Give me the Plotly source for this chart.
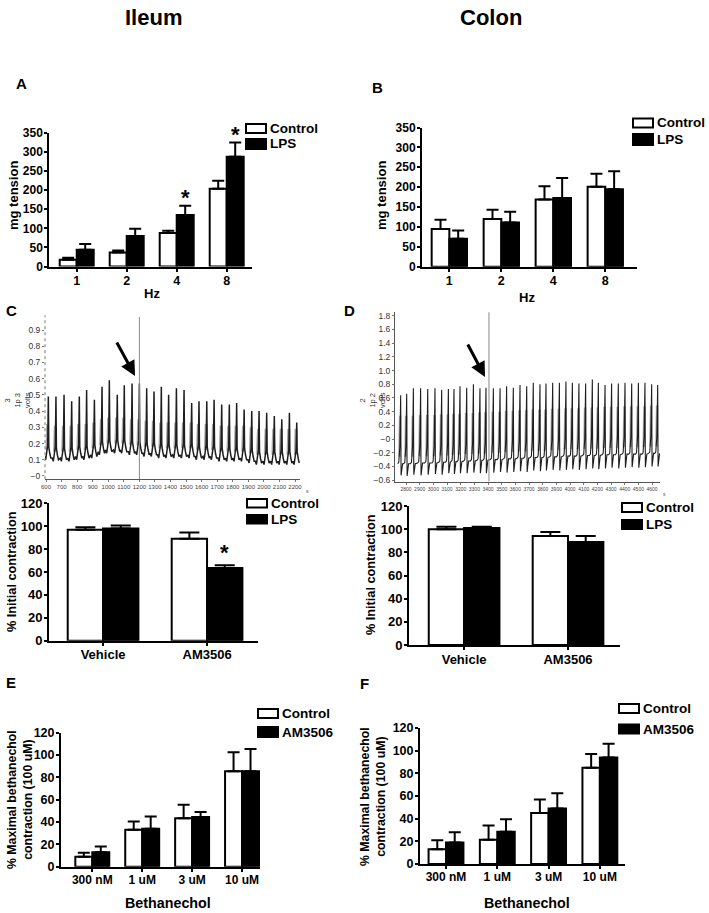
import plotly.graph_objects as go

W, H = 709, 913
FONT = "Liberation Sans, Arial, sans-serif"

# ---------------- data ----------------
hz_labels = ["1", "2", "4", "8"]
A_control = [18, 37, 88, 204]
A_control_err = [5, 5, 6, 21]
A_lps = [44, 80, 135, 288]
A_lps_err = [15, 19, 24, 37]
A_sig = [False, False, True, True]

B_control = [95, 120, 169, 201]
B_control_err = [23, 23, 33, 33]
B_lps = [70, 111, 173, 195]
B_lps_err = [21, 27, 50, 45]

treat_labels = ["Vehicle", "AM3506"]
C_control = [97, 89]
C_control_err = [2, 5.6]
C_lps = [98, 63.5]
C_lps_err = [2.7, 2.4]
C_sig = [False, True]

D_control = [100, 94]
D_control_err = [2, 3.5]
D_lps = [101, 89]
D_lps_err = [1, 5]

conc_labels = ["300 nM", "1 uM", "3 uM", "10 uM"]
E_control = [9, 33, 43.5, 85.5]
E_control_err = [3.5, 7.5, 12, 17]
E_am = [13, 34, 44.5, 85.5]
E_am_err = [5, 11, 4.5, 20]
F_control = [13, 21.5, 45, 85]
F_control_err = [8, 12.5, 12, 12]
F_am = [19, 28.5, 49, 94]
F_am_err = [9, 11, 13.5, 12]

# recorded traces (spike times in s, peak volts, baseline volts)
C_peak_t = [615, 664, 716, 765, 814, 861, 911, 960, 1007, 1058, 1103, 1153, 1200, 1247,
            1294, 1341, 1388, 1438, 1487, 1536, 1583, 1633, 1680, 1729, 1778, 1825, 1873,
            1922, 1969, 2018, 2067, 2115, 2164, 2211]
C_peak_v = [0.49, 0.49, 0.50, 0.46, 0.49, 0.53, 0.47, 0.55, 0.59, 0.50, 0.56, 0.57, 0.57, 0.54,
            0.52, 0.55, 0.50, 0.54, 0.53, 0.45, 0.46, 0.46, 0.47, 0.44, 0.44, 0.45, 0.41,
            0.40, 0.40, 0.39, 0.37, 0.35, 0.39, 0.33]
C_base = [0.12, 0.11, 0.11, 0.11, 0.12, 0.12, 0.13, 0.15, 0.16, 0.16, 0.16, 0.15, 0.15, 0.14,
          0.14, 0.13, 0.13, 0.13, 0.13, 0.13, 0.12, 0.12, 0.12, 0.11, 0.11, 0.11, 0.11,
          0.10, 0.09, 0.09, 0.09, 0.09, 0.09, 0.09]
C_cursor = 1200
C_xticks = list(range(600, 2201, 100))
C_yticks = [0, 0.1, 0.2, 0.3, 0.4, 0.5, 0.6, 0.7, 0.8, 0.9]
C_ytext = ["\u22120", "0.1", "0.2", "0.3", "0.4", "0.5", "0.6", "0.7", "0.8", "0.9"]

D_peak_t = [2761, 2805, 2854, 2907, 2959, 3012, 3061, 3110, 3151, 3195, 3244, 3293, 3341, 3385,
            3439, 3488, 3536, 3585, 3634, 3683, 3731, 3780, 3824, 3873, 3922, 3970, 4017,
            4065, 4114, 4163, 4207, 4256, 4304, 4353, 4402, 4451, 4500, 4548, 4597, 4641]
D_peak_v = [0.64, 0.66, 0.74, 0.74, 0.73, 0.74, 0.72, 0.73, 0.73, 0.77, 0.75, 0.80, 0.74, 0.75,
            0.74, 0.74, 0.77, 0.75, 0.79, 0.77, 0.82, 0.80, 0.81, 0.82, 0.82, 0.84, 0.82,
            0.81, 0.81, 0.87, 0.82, 0.79, 0.81, 0.81, 0.82, 0.81, 0.82, 0.82, 0.80, 0.79]
D_base = [-0.36, -0.36, -0.36, -0.35, -0.35, -0.35, -0.34, -0.34, -0.33, -0.33, -0.32, -0.32,
          -0.31, -0.31, -0.30, -0.30, -0.29, -0.29, -0.28, -0.28, -0.27, -0.27, -0.27, -0.26,
          -0.26, -0.25, -0.25, -0.25, -0.24, -0.24, -0.24, -0.23, -0.23, -0.23, -0.22, -0.22,
          -0.22, -0.22, -0.21, -0.21]
D_trough = [-0.53, -0.54, -0.52, -0.53, -0.52, -0.51, -0.52, -0.50, -0.51, -0.50, -0.50, -0.49,
            -0.50, -0.50, -0.49, -0.48, -0.49, -0.48, -0.47, -0.48, -0.46, -0.47, -0.46, -0.45,
            -0.46, -0.45, -0.44, -0.45, -0.44, -0.43, -0.44, -0.43, -0.42, -0.43, -0.42, -0.41,
            -0.42, -0.41, -0.40, -0.40]
D_cursor = 3407
D_xticks = list(range(2800, 4601, 100))
D_yticks = [-0.6, -0.4, -0.2, 0, 0.2, 0.4, 0.6, 0.8, 1.0, 1.2, 1.4, 1.6, 1.8]
D_ytext = ["\u22120.6", "\u22120.4", "\u22120.2", "\u22120", "0.2", "0.4", "0.6", "0.8",
           "1.0", "1.2", "1.4", "1.6", "1.8"]


def px(x):
    return x / W


def py(y):
    return 1 - y / H


fig = go.Figure()
annotations = []
shapes = []


def bar_pair(ax, labels, v1, e1, v2, e2, capw):
    n = len(labels)
    xs = list(range(n))
    fig.add_trace(go.Bar(
        x=xs, y=v1, xaxis="x" + ax, yaxis="y" + ax, showlegend=False,
        marker=dict(color="white", line=dict(color="black", width=2)),
        error_y=dict(type="data", array=e1, arrayminus=[0] * n, symmetric=False,
                     color="black", thickness=2, width=capw)))
    fig.add_trace(go.Bar(
        x=xs, y=v2, xaxis="x" + ax, yaxis="y" + ax, showlegend=False,
        marker=dict(color="black", line=dict(color="black", width=2)),
        error_y=dict(type="data", array=e2, arrayminus=[0] * n, symmetric=False,
                     color="black", thickness=2, width=capw)))


bar_pair("", hz_labels, A_control, A_control_err, A_lps, A_lps_err, 6)
bar_pair("2", hz_labels, B_control, B_control_err, B_lps, B_lps_err, 6)
bar_pair("5", treat_labels, C_control, C_control_err, C_lps, C_lps_err, 10)
bar_pair("6", treat_labels, D_control, D_control_err, D_lps, D_lps_err, 10)
bar_pair("7", conc_labels, E_control, E_control_err, E_am, E_am_err, 6)
bar_pair("8", conc_labels, F_control, F_control_err, F_am, F_am_err, 6)

# recorded traces: grey rising flanks underneath, dark recording line on top
gx, gy = [], []
for t, p, b in zip(C_peak_t, C_peak_v, C_base):
    gx += [t - 9, t - 4, None]
    gy += [b + 0.04, b + 0.2, None]
fig.add_trace(go.Scatter(x=gx, y=gy, mode="lines", xaxis="x3", yaxis="y3", showlegend=False,
                         line=dict(color="#a8a8a8", width=3)))
cx, cy = [], []
for t, p, b in zip(C_peak_t, C_peak_v, C_base):
    cx += [t - 24, t - 17, t - 10, t - 4, t, t + 3, t + 9, t + 16]
    cy += [b, b - 0.02, b + 0.03, b + 0.07, p, b + 0.06, b + 0.02, b - 0.01]
fig.add_trace(go.Scatter(x=cx, y=cy, mode="lines", xaxis="x3", yaxis="y3", showlegend=False,
                         line=dict(color="#1e1e1e", width=1.5)))

hx, hy = [], []
for t, p, b, q in zip(D_peak_t, D_peak_v, D_base, D_trough):
    hx += [t - 9, t - 4, None]
    hy += [b + 0.1, b + 0.7, None]
fig.add_trace(go.Scatter(x=hx, y=hy, mode="lines", xaxis="x4", yaxis="y4", showlegend=False,
                         line=dict(color="#a8a8a8", width=2.5)))
dx, dy = [], []
for t, p, b, q in zip(D_peak_t, D_peak_v, D_base, D_trough):
    dx += [t - 22, t - 14, t - 6, t, t + 3, t + 8, t + 14]
    dy += [b, b + 0.02, b + 0.25, p, q, b - 0.02, b]
fig.add_trace(go.Scatter(x=dx, y=dy, mode="lines", xaxis="x4", yaxis="y4", showlegend=False,
                         line=dict(color="#1e1e1e", width=1.1)))

layout = dict(
    width=W, height=H, autosize=False, margin=dict(l=0, r=0, t=0, b=0, pad=0, autoexpand=False),
    paper_bgcolor="white", plot_bgcolor="white",
    barmode="group", bargap=0.32, bargroupgap=0,
    font=dict(family=FONT, color="black"),
)


def bar_axes(key, xd, yd, xr, labels, yr, dtick, tfs, cfs):
    xk = "xaxis" + key
    yk = "yaxis" + key
    layout[xk] = dict(domain=[px(xd[0]), px(xd[1])], range=xr, anchor="y" + key,
                      tickmode="array", tickvals=list(range(len(labels))), ticktext=labels,
                      showline=True, linecolor="black", linewidth=2, ticks="outside",
                      ticklen=3, tickwidth=1.5, tickcolor="black", showgrid=False,
                      zeroline=False, fixedrange=True, automargin=False,
                      ticklabelstandoff=-2,
                      tickfont=dict(family=FONT, size=cfs, color="black", weight="bold"))
    layout[yk] = dict(domain=[py(yd[1]), py(yd[0])], range=yr, anchor="x" + key,
                      dtick=dtick, tick0=0, showline=True, linecolor="black", linewidth=2,
                      ticks="outside", ticklen=3, tickwidth=1.5, tickcolor="black",
                      showgrid=False, zeroline=False, fixedrange=True, automargin=False,
                      ticklabelstandoff=-1,
                      tickfont=dict(family=FONT, size=tfs, color="black", weight="bold"))


bar_axes("", (49.3, 251.7), (133, 266.5), [-0.548, 3.5], hz_labels, [0, 350], 50, 12, 12.5)
bar_axes("2", (422, 637), (127.5, 266.7), [-0.526, 3.61], hz_labels, [0, 350], 50, 12, 12.5)
bar_axes("5", (49, 258), (503.3, 640.7), [-0.52, 1.49], treat_labels, [0, 120], 20, 13, 13)
bar_axes("6", (409, 620), (506, 645), [-0.53, 1.5], treat_labels, [0, 120], 20, 13, 13)
bar_axes("7", (61, 260), (732.7, 866.7), [-0.627, 3.36], conc_labels, [0, 120], 20, 12.5, 12)
bar_axes("8", (420, 625), (728, 864), [-0.507, 3.49], conc_labels, [0, 120], 20, 12.5, 12)


def trace_axes(key, xd, yd, xr, yr, xt, yt, ytxt, dotted, xfs):
    layout["xaxis" + key] = dict(domain=[px(xd[0]), px(xd[1])], range=xr, anchor="y" + key,
                                 tickmode="array", tickvals=xt, ticktext=[str(v) for v in xt],
                                 showline=True, linecolor="#555", linewidth=1, ticks="outside",
                                 ticklen=2, tickcolor="#777", showgrid=False, zeroline=False,
                                 tickangle=0, fixedrange=True, automargin=False,
                                 tickfont=dict(family=FONT, size=xfs, color="#444"))
    layout["yaxis" + key] = dict(domain=[py(yd[1]), py(yd[0])], range=yr, anchor="x" + key,
                                 tickmode="array", tickvals=yt, ticktext=ytxt,
                                 showline=not dotted, linecolor="#555", linewidth=1,
                                 ticks="outside", ticklen=2, tickcolor="#777", showgrid=False,
                                 zeroline=False, fixedrange=True, automargin=False,
                                 tickfont=dict(family=FONT, size=8.5, color="#333"))


trace_axes("3", (45, 300), (315.4, 479.2), [593.6, 2232], [-0.02, 0.99],
           C_xticks, C_yticks, C_ytext, True, 6)
trace_axes("4", (395, 660), (312.3, 481.5), [2719.5, 4658], [-0.62, 1.85],
           D_xticks, D_yticks, D_ytext, False, 5)

# dotted y-axis of the ileum recording, cursor lines
shapes.append(dict(type="line", xref="x3 domain", yref="y3 domain", x0=0, x1=0, y0=0, y1=1,
                   line=dict(color="#777", width=1, dash="dot")))
shapes.append(dict(type="line", xref="x3", yref="y3 domain", x0=C_cursor, x1=C_cursor,
                   y0=0, y1=0.99, line=dict(color="#888", width=1)))
shapes.append(dict(type="line", xref="x4", yref="y4 domain", x0=D_cursor, x1=D_cursor,
                   y0=0, y1=1.0, line=dict(color="#888", width=1)))


def ann(x, y, text, size, bold=True, angle=0, xanchor="center", yanchor="middle", color="black"):
    annotations.append(dict(x=px(x), y=py(y), xref="paper", yref="paper", text=text,
                            showarrow=False, textangle=angle, xanchor=xanchor, yanchor=yanchor,
                            font=dict(family=FONT, size=size, color=color,
                                      weight="bold" if bold else "normal")))


# titles and panel letters
ann(153, 17, "Ileum", 22)
ann(491, 17, "Colon", 22)
ann(21, 83, "A", 15)
ann(378, 88, "B", 15)
ann(11, 310, "C", 15)
ann(349, 310, "D", 15)
ann(11, 682, "E", 15)
ann(364, 683, "F", 15)

# axis titles
ann(14, 196, "mg tension", 13, angle=-90)
ann(382, 196, "mg tension", 13, angle=-90)
ann(152, 294, "Hz", 13)
ann(527, 297, "Hz", 13)
ann(12, 572, "% Initial contraction", 12.7, angle=-90)
ann(371, 575, "% Initial contraction", 12.7, angle=-90)
ann(20, 800, "% Maximal bethanechol<br>contraction (100 uM)", 12.3, angle=-90)
ann(373, 796, "% Maximal bethanechol<br>contraction (100 uM)", 12.3, angle=-90)
ann(168, 903, "Bethanechol", 14.3)
ann(527, 903, "Bethanechol", 14.3)
ann(17, 400, "3<br>1p 3<br>volts", 7.5, bold=False, angle=-90, color="#333")
ann(372, 400, "2<br>1p 2<br>volts", 7.5, bold=False, angle=-90, color="#333")
ann(304, 486, "s", 5, bold=False, color="#444", xanchor="left", yanchor="top")
ann(661, 489, "s", 5, bold=False, color="#444", xanchor="left", yanchor="top")


# legends
def legend(x0, y1a, y1b, y2a, y2b, name2):
    shapes.append(dict(type="rect", xref="paper", yref="paper", x0=px(x0), x1=px(x0 + 20),
                       y0=py(y1b), y1=py(y1a), fillcolor="white",
                       line=dict(color="black", width=2)))
    shapes.append(dict(type="rect", xref="paper", yref="paper", x0=px(x0), x1=px(x0 + 20),
                       y0=py(y2b), y1=py(y2a), fillcolor="black",
                       line=dict(color="black", width=2)))
    ann(x0 + 22, (y1a + y1b) / 2, "Control", 13.5, xanchor="left")
    ann(x0 + 22, (y2a + y2b) / 2, name2, 13.5, xanchor="left")


legend(246, 124, 133, 139, 149, "LPS")
legend(633, 118.5, 127.5, 134, 145, "LPS")
legend(247, 499, 507.5, 515, 523.5, "LPS")
legend(622, 503, 512, 520, 529, "LPS")
legend(258, 709, 718, 727, 737, "AM3506")
legend(619, 704, 713, 724.5, 733.5, "AM3506")

# significance stars from data
for i, s in enumerate(A_sig):
    if s:
        annotations.append(dict(x=i + 0.17, y=A_lps[i] + A_lps_err[i], xref="x", yref="y",
                                text="*", showarrow=False, yanchor="bottom", yshift=-6,
                                font=dict(family=FONT, size=22, weight="bold")))
for i, s in enumerate(C_sig):
    if s:
        annotations.append(dict(x=i + 0.17, y=C_lps[i] + C_lps_err[i], xref="x5", yref="y5",
                                text="*", showarrow=False, yanchor="bottom", yshift=-2,
                                font=dict(family=FONT, size=22, weight="bold")))

# arrows on the recordings
annotations.append(dict(x=px(135), y=py(376), xref="paper", yref="paper", text="",
                        showarrow=True, ax=-19, ay=-35, arrowhead=2, arrowsize=1,
                        arrowwidth=3, arrowcolor="black"))
annotations.append(dict(x=px(485), y=py(377), xref="paper", yref="paper", text="",
                        showarrow=True, ax=-18, ay=-34, arrowhead=2, arrowsize=1,
                        arrowwidth=3, arrowcolor="black"))

layout["annotations"] = annotations
layout["shapes"] = shapes
fig.update_layout(**layout)
fig.write_html("out.html", config={"displayModeBar": False},
               post_script="document.body.style.margin='0';")
